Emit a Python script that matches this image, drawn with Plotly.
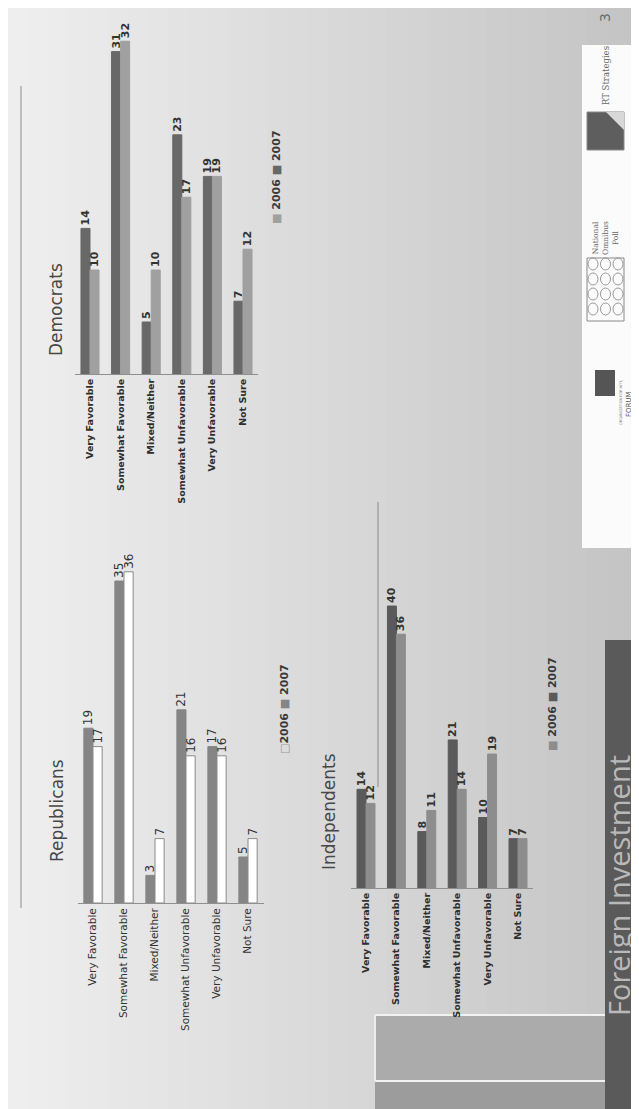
import plotly.graph_objects as go

# ---------------- data ----------------
categories = ["Very Favorable", "Somewhat Favorable", "Mixed/Neither",
              "Somewhat Unfavorable", "Very Unfavorable", "Not Sure"]
years = ["2006", "2007"]

dem_2006 = [10, 32, 10, 17, 19, 12]
dem_2007 = [14, 31, 5, 23, 19, 7]

rep_2006 = [17, 36, 7, 16, 16, 7]
rep_2007 = [19, 35, 3, 21, 17, 5]

ind_2006 = [12, 36, 11, 14, 19, 7]
ind_2007 = [14, 40, 8, 21, 10, 7]

panel_titles = ["Democrats", "Republicans", "Independents"]
page_title = "Foreign Investment"

# ---------------- helpers (pixel -> paper) ----------------
W, H = 639, 1109


def px(x):
    return x / W


def py(y):
    return 1 - y / H


FONT = "DejaVu Sans"
fig = go.Figure()

shapes = []
# background horizontal gradient (decoration)
steps = 32
for i in range(steps):
    x0 = W * i / steps
    x1 = W * (i + 1) / steps
    g = int(round(239 - 44 * ((x0 + x1) / 2) / W))
    shapes.append(dict(type="rect", xref="paper", yref="paper",
                       x0=px(x0), x1=px(x1) + 0.002, y0=0, y1=1,
                       fillcolor=f"rgb({g},{g},{g})", line_width=0, layer="below"))

# lower-right slide decoration bands
shapes += [
    dict(type="rect", xref="paper", yref="paper", x0=px(367), x1=px(598),
         y0=py(1073), y1=py(1007), fillcolor="#ababab", line_width=0, layer="below"),
    dict(type="rect", xref="paper", yref="paper", x0=px(367), x1=px(598),
         y0=py(1109), y1=py(1073), fillcolor="#9c9c9c", line_width=0, layer="below"),
    dict(type="line", xref="paper", yref="paper", x0=px(367), x1=px(597),
         y0=py(1007), y1=py(1007), line=dict(color="#f2f2f2", width=2), layer="below"),
    dict(type="line", xref="paper", yref="paper", x0=px(367), x1=px(597),
         y0=py(1073), y1=py(1073), line=dict(color="#f2f2f2", width=2), layer="below"),
    dict(type="line", xref="paper", yref="paper", x0=px(367), x1=px(367),
         y0=py(1007), y1=py(1073), line=dict(color="#ececec", width=2), layer="below"),
    # title panel
    dict(type="rect", xref="paper", yref="paper", x0=px(597), x1=1,
         y0=0, y1=py(632), fillcolor="#5a5a5a", line_width=0, layer="below"),
    # thin rule lines
    dict(type="line", xref="paper", yref="paper", x0=px(13), x1=px(13),
         y0=py(78), y1=py(900), line=dict(color="#bdbdbd", width=2), layer="below"),
    dict(type="line", xref="paper", yref="paper", x0=px(370), x1=px(370),
         y0=py(494), y1=py(779), line=dict(color="#b0b0b0", width=2), layer="below"),
    # logo panel
    dict(type="rect", xref="paper", yref="paper", x0=px(574), x1=1,
         y0=py(540), y1=py(37), fillcolor="#fbfbfb", line_width=0, layer="below"),
    # RT logo
    dict(type="rect", xref="paper", yref="paper", x0=px(579), x1=px(616),
         y0=py(142), y1=py(104), fillcolor="#5e5e5e",
         line=dict(color="#888", width=1), layer="below"),
    dict(type="path", xref="paper", yref="paper",
         path=f"M {px(598)},{py(104)} L {px(616)},{py(104)} L {px(616)},{py(122)} Z",
         fillcolor="#d8d8d8", line_width=0, layer="below"),
    # omnibus logo box
    dict(type="rect", xref="paper", yref="paper", x0=px(579), x1=px(616),
         y0=py(313), y1=py(250), fillcolor="rgba(0,0,0,0)",
         line=dict(color="#888", width=1), layer="below"),
    # forum logo
    dict(type="rect", xref="paper", yref="paper", x0=px(587), x1=px(607),
         y0=py(388), y1=py(362), fillcolor="#555", line_width=0, layer="below"),
]
for r in range(4):
    for c in range(3):
        cx = 585 + c * 12.5
        cy = 256 + r * 15
        shapes.append(dict(type="circle", xref="paper", yref="paper",
                           x0=px(cx - 5), x1=px(cx + 5), y0=py(cy + 6), y1=py(cy - 6),
                           line=dict(color="#999", width=1), layer="below"))

# ---------------- panels ----------------
panels = [
    dict(name=panel_titles[0], v06=dem_2006, v07=dem_2007, ax="", xd=(66.7, 250.3),
         base=366, ymax=35, top=2, c06="#a0a0a0", c07="#686868", l06="#a0a0a0",
         tickfont=dict(family=FONT, size=9.5, color="#2e2e2e"), bold=True, vsize=11),
    dict(name=panel_titles[1], v06=rep_2006, v07=rep_2007, ax="2", xd=(69.5, 255.5),
         base=895, ymax=38, top=545.4, c06="#ffffff", c07="#858585", l06="#8a8a8a",
         tickfont=dict(family=FONT, size=10.5, color="#333333"), bold=False, vsize=12),
    dict(name=panel_titles[2], v06=ind_2006, v07=ind_2007, ax="3", xd=(342.8, 525.2),
         base=880, ymax=45, top=562.75, c06="#8d8d8d", c07="#5a5a5a", l06="#8d8d8d",
         tickfont=dict(family=FONT, size=9.5, color="#2e2e2e"), bold=True, vsize=11),
]

layout_axes = {}
for p in panels:
    xa = "x" + p["ax"]
    ya = "y" + p["ax"]
    tf = dict(family=FONT, size=p["vsize"], color="#333333")
    for yr, vals, col in [(years[1], p["v07"], p["c07"]), (years[0], p["v06"], p["c06"])]:
        line = dict(color=p["l06"] if yr == years[0] else col, width=1)
        texts = [f"<b>{v}</b>" if p["bold"] else str(v) for v in vals]
        fig.add_trace(go.Bar(
            x=categories, y=vals, name=yr, xaxis=xa, yaxis=ya,
            marker=dict(color=col, line=line),
            text=texts, textposition="outside", textangle=-90,
            outsidetextfont=tf, cliponaxis=False, constraintext="none",
            showlegend=False, hoverinfo="skip"))
    layout_axes["xaxis" + p["ax"]] = dict(
        domain=[px(p["xd"][0]), px(p["xd"][1])], range=[-0.5, 5.5],
        anchor=ya, showline=True, linecolor="#8f8f8f", linewidth=1,
        ticks="", tickangle=-90, showgrid=False, zeroline=False,
        tickfont=p["tickfont"], fixedrange=True,
        tickprefix="<b>" if p["bold"] else "", ticksuffix="</b>" if p["bold"] else "")
    layout_axes["yaxis" + p["ax"]] = dict(
        domain=[py(p["base"]), py(p["top"])], range=[0, p["ymax"]],
        anchor=xa, visible=False, fixedrange=True)

# ---------------- annotations ----------------
ann = []


def rot(text, x, y, size, color="#444", family=FONT, **kw):
    ann.append(dict(text=text, xref="paper", yref="paper", x=px(x), y=py(y),
                    xanchor="center", yanchor="middle", textangle=-90, showarrow=False,
                    font=dict(family=family, size=size, color=color), **kw))


# titles
rot(panel_titles[0], 48, 302, 17, "#474747")
rot(panel_titles[1], 49, 803, 17, "#474747")
rot(panel_titles[2], 321, 804, 17, "#474747")

# legends
rot(f"<b><span style='color:#a0a0a0'>■</span> {years[0]} <span style='color:#686868'>■</span> {years[1]}</b>",
    269, 169, 11, "#3a3a3a")
rot(f"<b><span style='color:#9a9a9a'>□</span>{years[0]} <span style='color:#858585'>■</span> {years[1]}</b>",
    276, 701, 11, "#3a3a3a")
rot(f"<b><span style='color:#8d8d8d'>■</span> {years[0]} <span style='color:#5a5a5a'>■</span> {years[1]}</b>",
    544, 696, 11, "#3a3a3a")

# slide title
rot(page_title, 610, 878, 29, "#b9b9b9", family="Open Sans", borderpad=0)
# page number
rot("3", 597, 10, 14, "#6a6a6a")
# logo texts
rot("RT Strategies", 598, 68, 8.5, "#666", family="DejaVu Serif")
rot("National<br>Omnibus<br>Poll", 598, 230, 7.5, "#666", family="DejaVu Serif")
rot("<i>Thomas Riehle, Partner</i>", 626, 232, 6.5, "#666", family="DejaVu Serif",
    borderpad=0)
rot("FORUM", 621, 396, 7, "#555")
rot("ORGANIZATION FOR INT'L", 613, 395, 3.5, "#777")

fig.update_layout(
    width=W, height=H, margin=dict(l=0, r=0, t=0, b=0),
    paper_bgcolor="#dcdcdc", plot_bgcolor="rgba(0,0,0,0)",
    barmode="group", bargap=0.41, bargroupgap=0.0,
    shapes=shapes, annotations=ann, showlegend=False,
    font=dict(family=FONT),
    **layout_axes)

fig.write_html("out.html")
